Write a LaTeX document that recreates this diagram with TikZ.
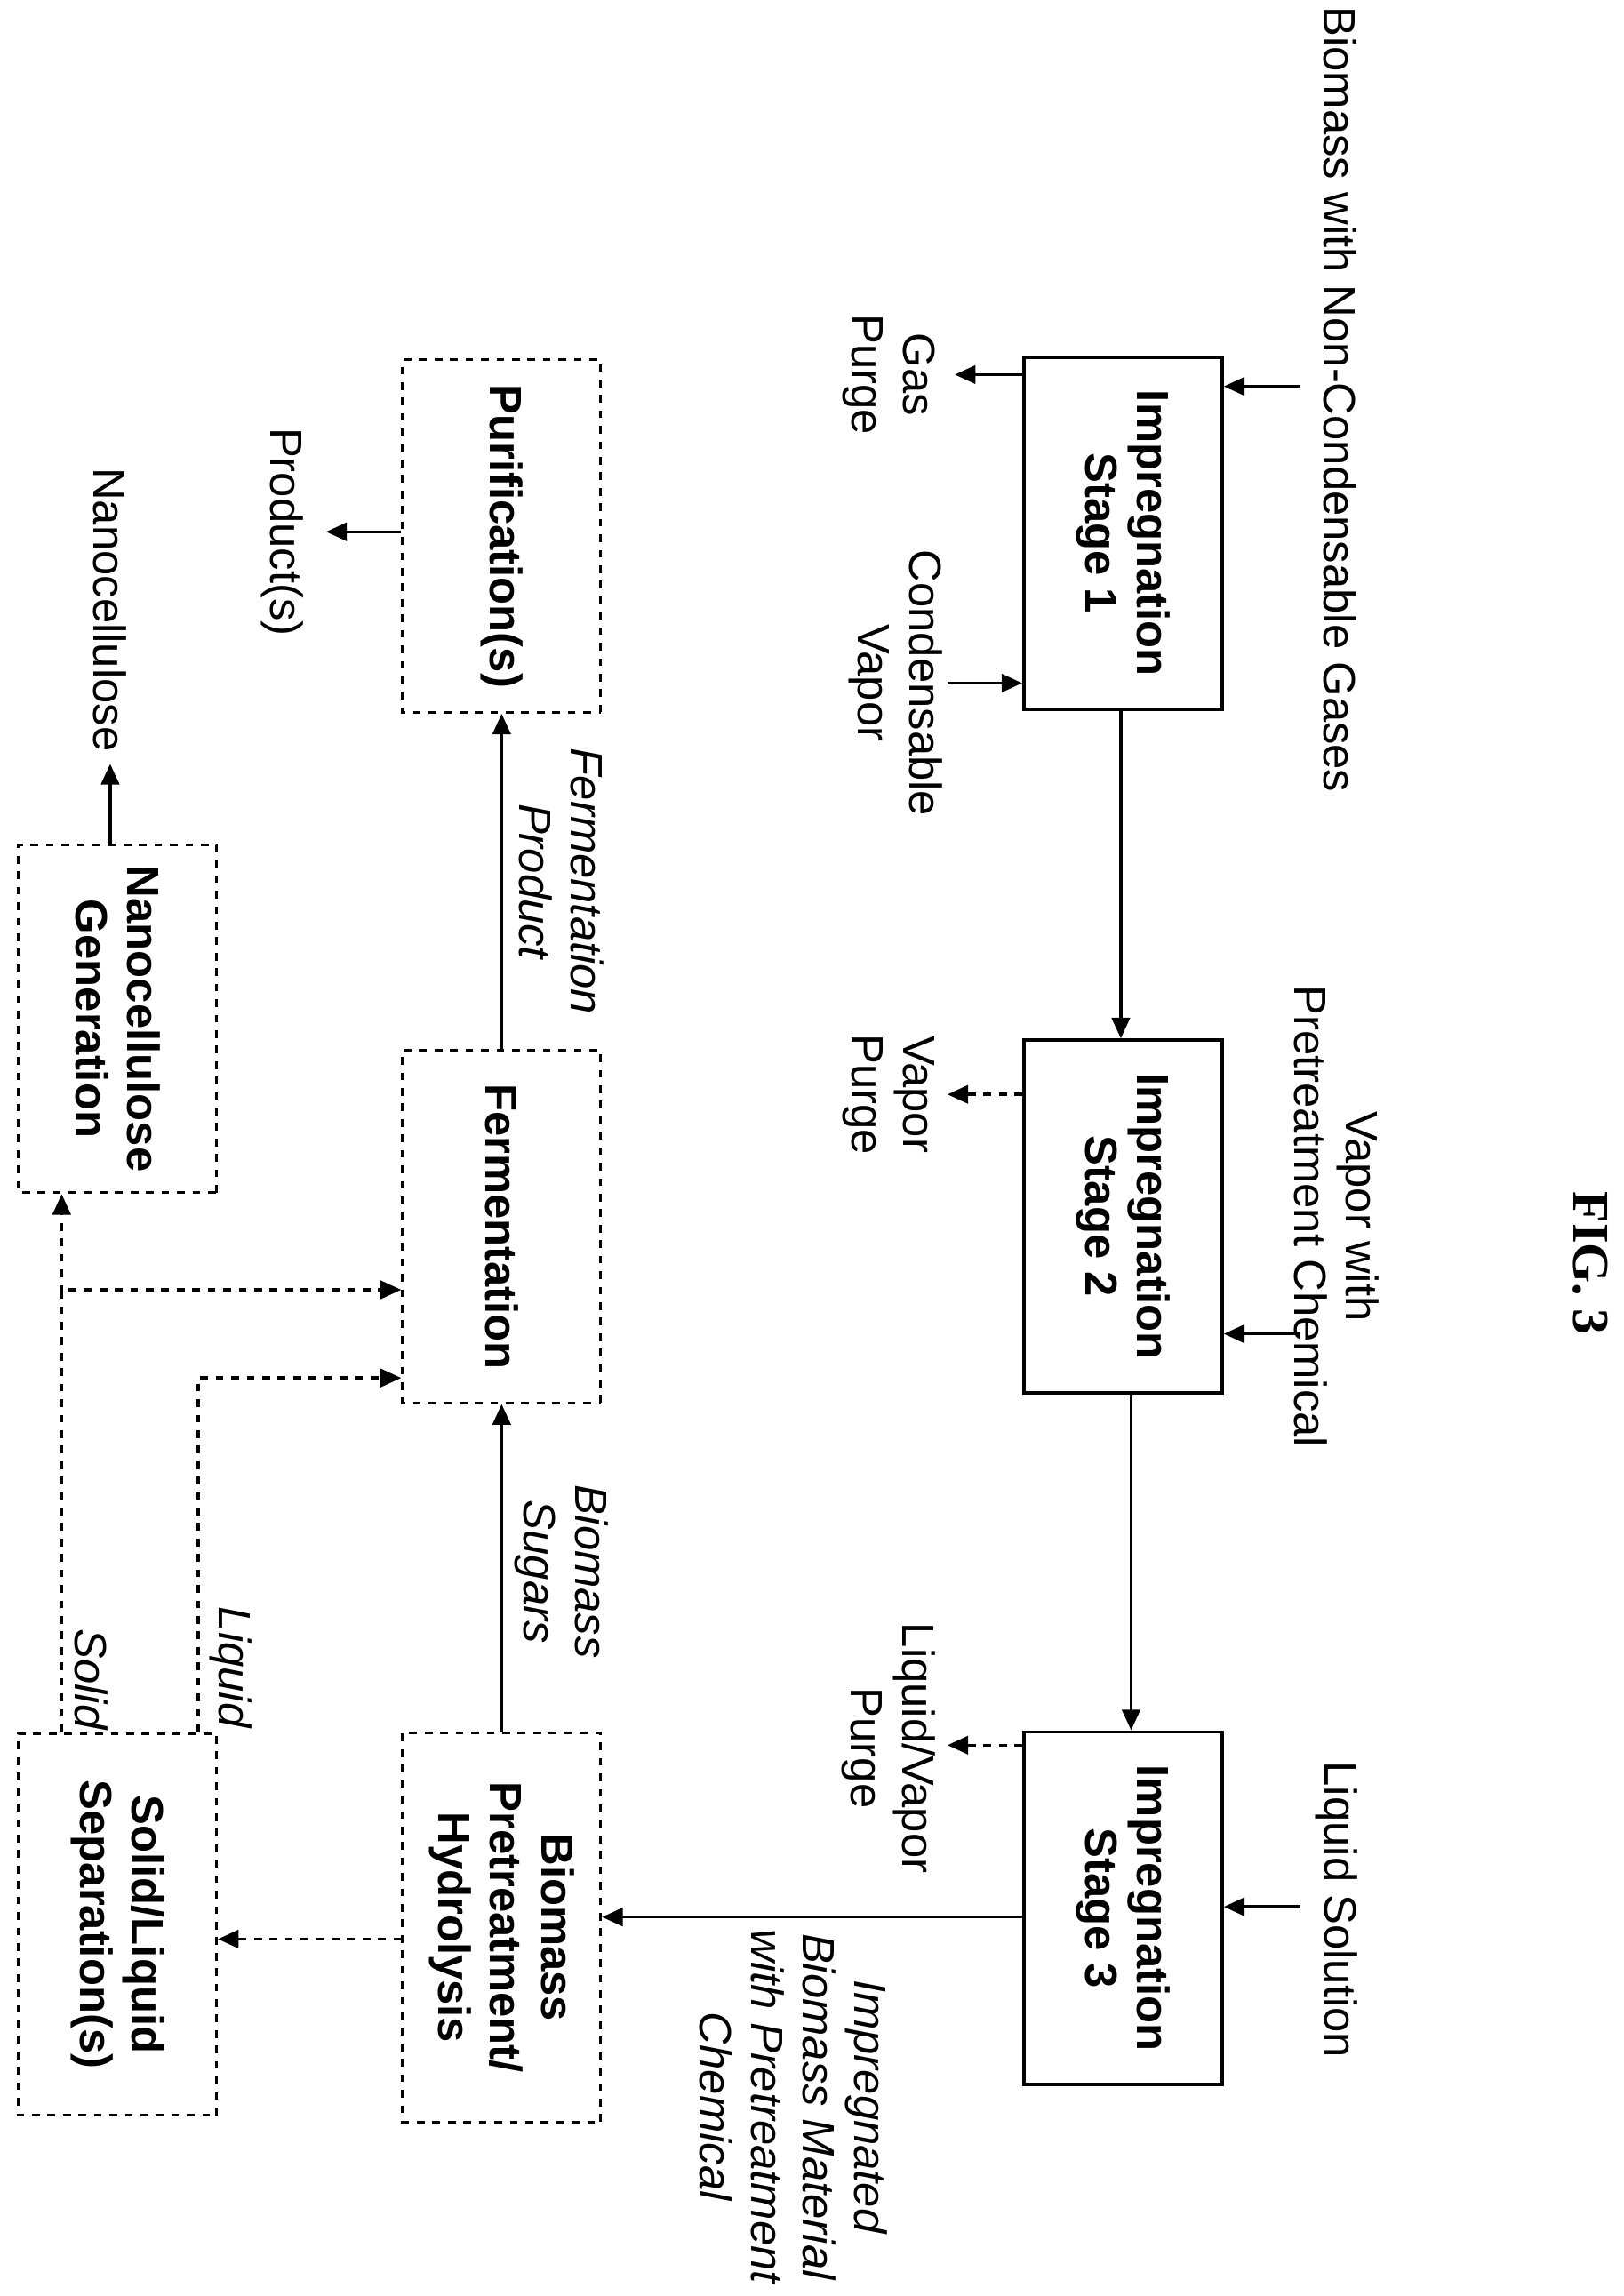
\documentclass[tikz,border=0pt]{standalone}
\usepackage{fontspec}
\setmainfont{Liberation Sans}
\newfontfamily\figfont{Liberation Serif}
\usetikzlibrary{arrows.meta,positioning}
\tikzset{
		>={Triangle[length=8pt,width=7pt]},
		stage/.style={draw, line width=1.3pt, rotate=-90, minimum width=4.8cm, minimum height=2.7cm, align=center, font=\fontsize{17.5}{20}\selectfont\bfseries},
		unit/.style={stage, dashed, line width=1pt},
		lbl/.style={rotate=-90, align=center, font=\fontsize{17.5}{20}\selectfont},
		ilbl/.style={lbl, font=\fontsize{17.5}{20}\selectfont\itshape},
		flow/.style={->, line width=1.2pt},
		dflow/.style={->, line width=1.2pt, dashed}
	}
\begin{document}
\begin{tikzpicture}[x=0.02cm, y=-0.02cm]
    \useasboundingbox (0,0) rectangle (1105,1563);

    % the title
    \node[rotate=-90, font=\fontsize{20}{24}\selectfont\bfseries\figfont] (fig) at (1083,860) {FIG. 3};

    % the impregnation stages
    \node[stage] (s1) at (764.5,363) {Impregnation\\Stage 1};
    \node[stage] (s2) at (764.5,828) {Impregnation\\Stage 2};
    \node[stage] (s3) at (764.5,1299) {Impregnation\\Stage 3};

    % the downstream steps
    \node[unit] (pur) at (341.5,365) {Purification(s)};
    \node[unit] (fer) at (341.5,835) {Fermentation};
    \node[unit, minimum width=5.3cm] (pre) at (341.5,1312) {Biomass\\Pretreatment/\\Hydrolysis};
    \node[unit, minimum width=5.2cm] (sep) at (80,1310) {Solid/Liquid\\Separation(s)};
    \node[unit, minimum width=4.74cm] (nan) at (80,693.5) {Nanocellulose\\Generation};

    % the feeds and purges (texts first, to use them as ends of the arrows)
    \node[lbl] (feed1) at (912,272) {Biomass with Non-Condensable Gases};
    \node[lbl] (gas) at (605,255) {Gas\\Purge};
    \node[lbl] (cond) at (610,465) {Condensable\\Vapor};
    \node[lbl] (feed2) at (910,828) {Vapor with\\Pretreatment Chemical};
    \node[lbl] (vpur) at (605,745) {Vapor\\Purge};
    \node[lbl] (feed3) at (910,1300) {Liquid Solution};
    \node[lbl] (lpur) at (605,1190) {Liquid/Vapor\\Purge};
    \node[lbl] (prod) at (192,362) {Product(s)};
    \node[lbl] (nano) at (75,415) {Nanocellulose};

    \coordinate (f1) at (885,263);
    \coordinate (f2) at (885,908);
    \coordinate (f3) at (885,1298);
    \coordinate (g1) at (650,255);
    \coordinate (c1) at (645,465);
    \coordinate (v1) at (645,745);
    \coordinate (l1) at (645,1188);
    \coordinate (p1) at (222,362);
    \coordinate (n1) at (75,520);

    % draw the arrows
    \draw[flow] (f1) -- (f1 -| s1.north);
    \draw[flow] (s1.south |- g1) -- (g1);
    \draw[flow] (c1) -- (c1 -| s1.south);
    \draw[flow] (s1.east -| 763,0) -- (s2.west -| 763,0);
    \draw[flow] (f2) -- (f2 -| s2.north);
    \draw[dflow] (s2.south |- v1) -- (v1);
    \draw[flow] (s2.east -| 770,0) -- (s3.west -| 770,0);
    \draw[flow] (f3) -- (f3 -| s3.north);
    \draw[dflow] (s3.south |- l1) -- (l1);
    \draw[flow] (s3.south |- 0,1305) -- (pre.north |- 0,1305);
    \node[ilbl] (imp) at (540,1434) {Impregnated\\Biomass Material\\with Pretreatment\\Chemical};

    \draw[flow] (pre.west) -- (fer.east);
    \node[ilbl] (sug) at (382,1070) {Biomass\\Sugars};
    \draw[flow] (fer.west) -- (pur.east);
    \node[ilbl] (fp) at (382,600) {Fermentation\\Product};
    \draw[flow] (pur.south |- p1) -- (p1);

    \draw[dflow] (pre.south |- 0,1320) -- (sep.north |- 0,1320);
    \draw[dflow] (sep.west -| 135,0) -- (135,938) -- (fer.south |- 0,938);
    \node[ilbl] (liq) at (157,1135) {Liquid};
    \draw[dflow] (sep.west -| 42,0) -- (42,878) -- (fer.south |- 0,878);
    \draw[dflow] (42,880) -- (nan.east -| 42,0);
    \node[ilbl] (sol) at (62,1143) {Solid};
    \draw[flow] (nan.west -| n1) -- (n1);

\end{tikzpicture}
\end{document}
